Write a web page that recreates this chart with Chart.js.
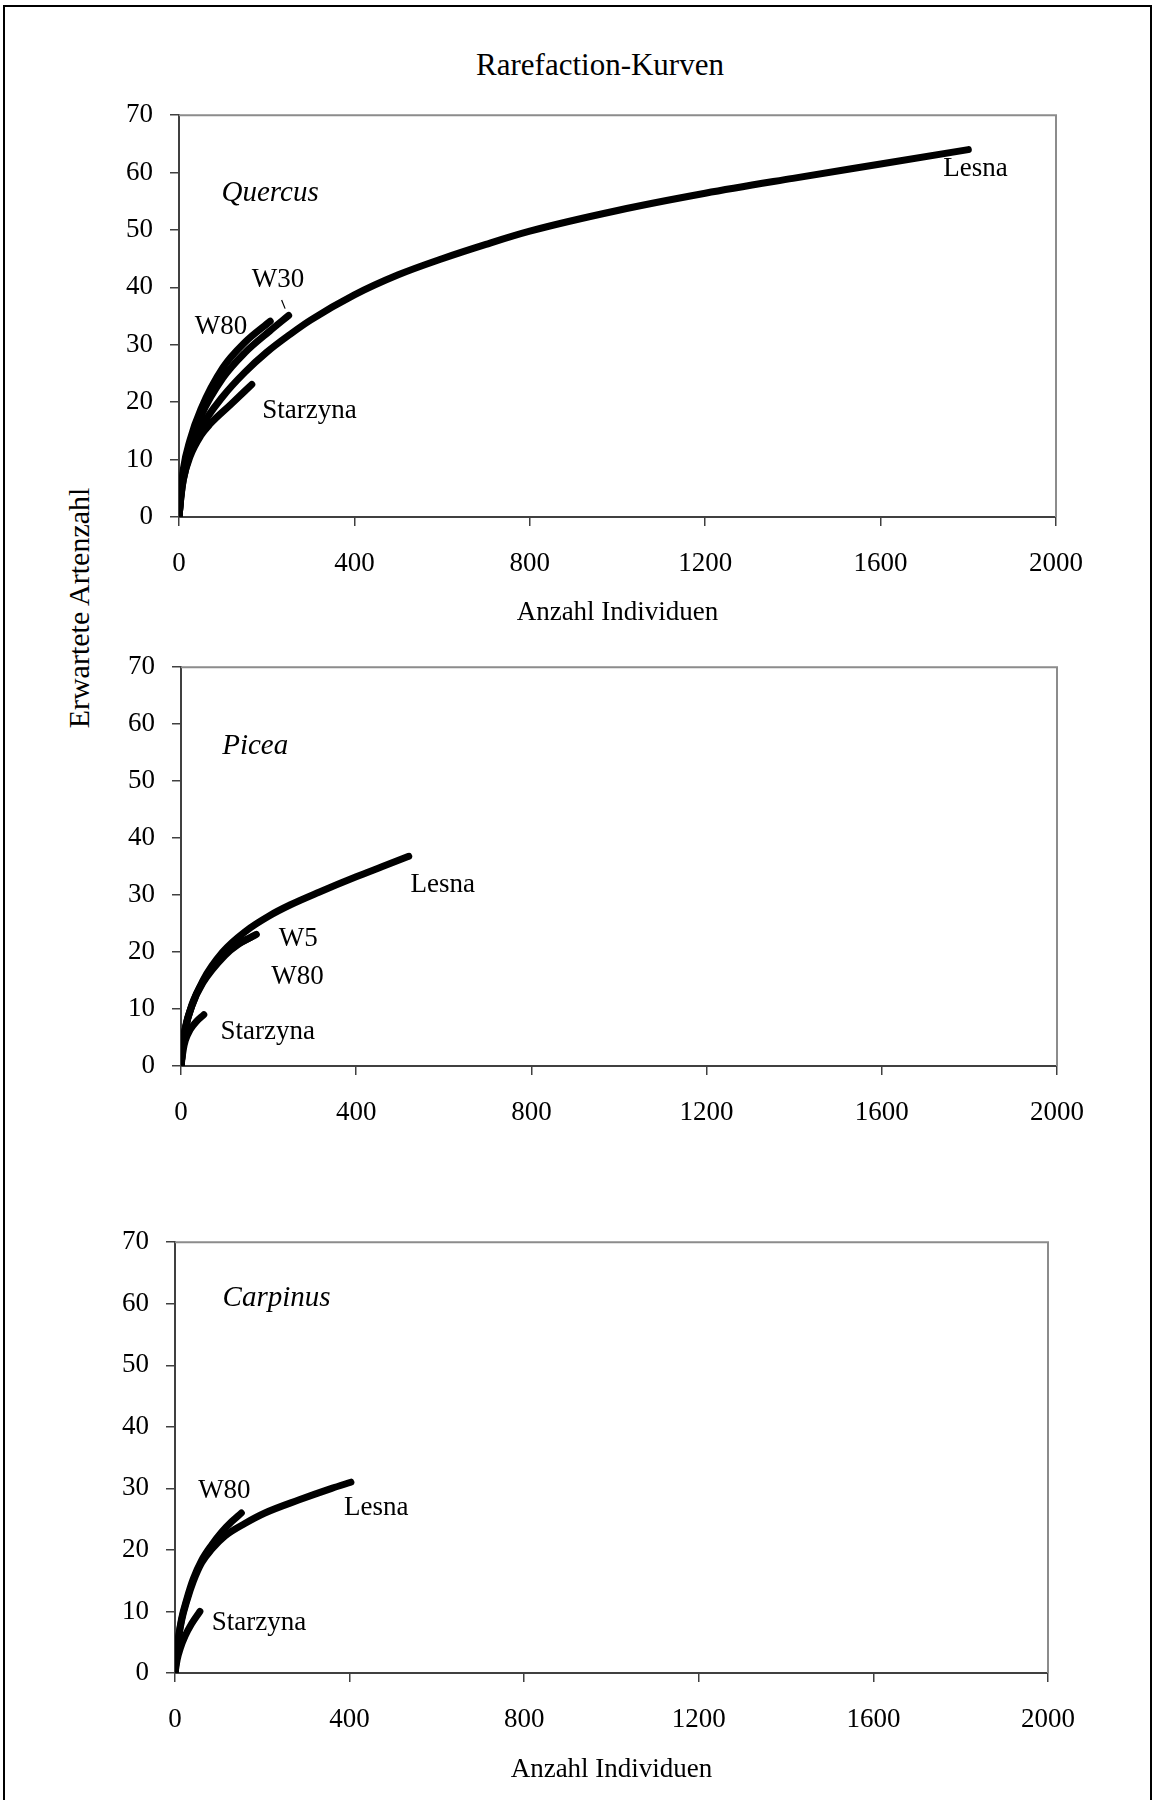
<!DOCTYPE html>
<html>
<head>
<meta charset="utf-8">
<script src="https://cdn.jsdelivr.net/npm/chart.js@4.4.1/dist/chart.umd.min.js"></script>
<style>
  body { margin: 0; background: #fff; }
  #page { position: relative; width: 1154px; height: 1800px; overflow: hidden; background: #fff;
          font-family: 'Liberation Serif', 'Times New Roman', serif; color: #000; }
  #frame { position: absolute; left: 3px; top: 5px; width: 1145px; height: 1900px; border: 2px solid #000; }
  #title { position: absolute; left: 400px; width: 400px; top: 46px; height: 38px; line-height: 38px;
           text-align: center; font-size: 31px; }
  #ytitle { position: absolute; left: -71px; top: 590px; width: 300px; height: 36px; line-height: 36px;
            text-align: center; font-size: 30px; transform: rotate(-90deg); transform-origin: 150px 18px; }
  canvas { position: absolute; left: 0; }
</style>
</head>
<body>
<div id="page">
  <div id="frame"></div>
  <div id="title">Rarefaction-Kurven</div>
  <div id="ytitle">Erwartete Artenzahl</div>
  <canvas id="quercus" width="1154" height="557" style="top:82px"></canvas>
  <canvas id="picea" width="1154" height="512" style="top:634px"></canvas>
  <canvas id="carpinus" width="1154" height="591" style="top:1209px"></canvas>
</div>
<script>
// Axis ticks
const xTicks = [0, 400, 800, 1200, 1600, 2000];
const yTicks = [0, 10, 20, 30, 40, 50, 60, 70];

// Quercus: sample size (individuals) and expected species
const qLesnaN = [0, 5, 10, 25, 50, 100, 150, 200, 253, 300, 400, 500, 600, 700, 800, 1000, 1200, 1400, 1600, 1800];
const qLesnaS = [0, 3.8, 6.5, 11, 15.5, 21, 25.2, 28.7, 31.8, 34.3, 38.7, 42.2, 45.0, 47.5, 49.8, 53.4, 56.4, 59, 61.5, 64];
const qW80N = [0, 5, 10, 25, 50, 100, 150, 208];
const qW80S = [0, 4.8, 8.4, 13.4, 18.8, 26, 30.4, 34.1];
const qW30N = [0, 5, 10, 25, 50, 100, 150, 207, 250];
const qW30S = [0, 4.5, 7.8, 12.6, 17.6, 24.2, 28.6, 32.4, 35.1];
const qStarN = [0, 5, 10, 25, 50, 71, 118, 166];
const qStarS = [0, 4.0, 6.6, 10.5, 14.2, 16.2, 19.6, 23.1];

// Picea
const pLesnaN = [0, 5, 10, 22, 50, 95, 150, 200, 250, 315, 400, 460, 520];
const pLesnaS = [0, 4.2, 6.8, 10, 15, 20, 23.8, 26.3, 28.3, 30.5, 33.2, 35, 36.8];
const pW5N = [0, 5, 10, 25, 50, 100, 130, 160];
const pW5S = [0, 4.1, 6.6, 10.8, 14.8, 19.6, 21.4, 22.6];
const pW80N = [0, 5, 10, 25, 50, 100, 130, 172];
const pW80S = [0, 4.0, 6.5, 10.6, 14.6, 19.4, 21.3, 23.1];
const pStarN = [0, 5, 10, 21, 35, 52];
const pStarS = [0, 2.8, 4.5, 6.4, 7.8, 9.0];

// Carpinus
const cLesnaN = [0, 4, 8, 15, 27, 42, 61, 84, 115, 160, 206, 283, 359, 403];
const cLesnaS = [0, 3.3, 5.6, 8.5, 11.7, 14.9, 17.9, 20.1, 22.3, 24.3, 26.0, 28.1, 30.0, 31];
const cW80N = [0, 4, 8, 15, 27, 42, 61, 84, 107, 130, 152];
const cW80S = [0, 3.4, 5.8, 8.8, 12.0, 15.3, 18.3, 20.8, 22.9, 24.6, 26];
const cStarN = [0, 5, 12, 23, 38, 57];
const cStarS = [0, 2.2, 4, 6, 8, 10];

const FONT = "'Liberation Serif', 'Times New Roman', serif";
const AXIS = '#404040';
const FRAME = '#8c8c8c';

function pts(n, s) { return n.map((v, i) => ({ x: v, y: s[i] })); }
function series(n, s) {
  return {
    data: pts(n, s), borderColor: '#000', borderWidth: 7, pointRadius: 0,
    cubicInterpolationMode: 'monotone', borderCapStyle: 'round', borderJoinStyle: 'round', fill: false
  };
}

// Gray plot-area border on the top and right, plus the in-plot labels
const panelDecor = {
  id: 'panelDecor',
  beforeDatasetsDraw(chart) {
    const a = chart.chartArea, c = chart.ctx;
    c.save();
    c.strokeStyle = FRAME; c.lineWidth = 2;
    c.beginPath();
    c.moveTo(a.left, a.top); c.lineTo(a.right, a.top); c.lineTo(a.right, a.bottom);
    c.stroke();
    c.restore();
  },
  afterDatasetsDraw(chart, args, opts) {
    const c = chart.ctx, xs = chart.scales.x, ys = chart.scales.y;
    c.save();
    c.fillStyle = '#000'; c.textAlign = 'left'; c.textBaseline = 'alphabetic';
    (opts.labels || []).forEach(l => {
      c.font = (l.italic ? 'italic ' : '') + l.size + 'px ' + FONT;
      c.fillText(l.text, xs.getPixelForValue(l.n), ys.getPixelForValue(l.s));
    });
    (opts.leaders || []).forEach(l => {
      c.strokeStyle = '#000'; c.lineWidth = 1.2;
      c.beginPath();
      c.moveTo(xs.getPixelForValue(l[0]), ys.getPixelForValue(l[1]));
      c.lineTo(xs.getPixelForValue(l[2]), ys.getPixelForValue(l[3]));
      c.stroke();
    });
    c.restore();
  }
};

function makePanel(id, datasets, geo, labels, leaders) {
  new Chart(document.getElementById(id), {
    type: 'line',
    data: { datasets },
    plugins: [panelDecor],
    options: {
      responsive: false, animation: false, devicePixelRatio: 1,
      layout: { padding: { top: 30, left: 0, right: 1154 - geo.right, bottom: 0 } },
      plugins: { legend: { display: false }, tooltip: { enabled: false }, panelDecor: { labels, leaders } },
      scales: {
        x: {
          type: 'linear', min: xTicks[0], max: xTicks[xTicks.length - 1],
          afterBuildTicks: s => { s.ticks = xTicks.map(v => ({ value: v })); },
          ticks: { color: '#000', font: { family: FONT, size: 27 }, padding: 22, maxRotation: 0, autoSkip: false,
                   callback: v => String(v) },
          grid: { drawOnChartArea: false, drawTicks: true, tickLength: 9, color: AXIS, lineWidth: 1.5 },
          border: { display: true, color: AXIS, width: 2 },
          title: { display: !!geo.xTitle, text: 'Anzahl Individuen', color: '#000',
                   font: { family: FONT, size: 27 }, padding: { top: 0, bottom: geo.titlePad || 0 } },
          afterFit: s => { s.height = geo.xh; }
        },
        y: {
          min: yTicks[0], max: yTicks[yTicks.length - 1],
          afterBuildTicks: s => { s.ticks = yTicks.map(v => ({ value: v })); },
          ticks: { color: '#000', font: { family: FONT, size: 27 }, padding: 17, callback: v => String(v) },
          grid: { drawOnChartArea: false, drawTicks: true, tickLength: 9, color: AXIS, lineWidth: 1.5 },
          border: { display: true, color: AXIS, width: 2 },
          afterFit: s => { s.width = geo.left; }
        }
      }
    }
  });
}

makePanel('quercus',
  [series(qLesnaN, qLesnaS), series(qW30N, qW30S), series(qW80N, qW80S), series(qStarN, qStarS)],
  { left: 179, right: 1056, xh: 122, xTitle: true, titlePad: 10 },
  [
    { text: 'Quercus', n: 97, s: 55.0, size: 29, italic: true },
    { text: 'W80', n: 36, s: 31.8, size: 27 },
    { text: 'W30', n: 166, s: 40.1, size: 27 },
    { text: 'Starzyna', n: 190, s: 17.3, size: 27 },
    { text: 'Lesna', n: 1743, s: 59.4, size: 27 }
  ],
  [[234, 37.8, 242, 36.3]]
);

makePanel('picea',
  [series(pLesnaN, pLesnaS), series(pW5N, pW5S), series(pW80N, pW80S), series(pStarN, pStarS)],
  { left: 181, right: 1057, xh: 80, xTitle: false },
  [
    { text: 'Picea', n: 94, s: 54.7, size: 29, italic: true },
    { text: 'Lesna', n: 524, s: 30.6, size: 27 },
    { text: 'W5', n: 223, s: 21.1, size: 27 },
    { text: 'W80', n: 206, s: 14.4, size: 27 },
    { text: 'Starzyna', n: 90, s: 4.8, size: 27 }
  ],
  []
);

makePanel('carpinus',
  [series(cLesnaN, cLesnaS), series(cW80N, cW80S), series(cStarN, cStarS)],
  { left: 175, right: 1048, xh: 127, xTitle: true, titlePad: 14 },
  [
    { text: 'Carpinus', n: 109, s: 59.7, size: 29, italic: true },
    { text: 'W80', n: 53, s: 28.5, size: 27 },
    { text: 'Lesna', n: 387, s: 25.7, size: 27 },
    { text: 'Starzyna', n: 84, s: 7.0, size: 27 }
  ],
  []
);
</script>
</body>
</html>
